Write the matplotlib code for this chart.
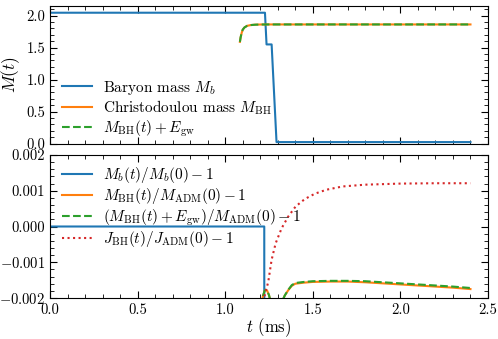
import numpy as np
import matplotlib
matplotlib.use("Agg")
import matplotlib.pyplot as plt
from matplotlib.ticker import MultipleLocator

plt.rcParams['font.family'] = 'serif'
plt.rcParams['font.serif'] = ['cmr10']
plt.rcParams['mathtext.fontset'] = 'cm'
plt.rcParams['axes.formatter.use_mathtext'] = True
plt.rcParams['font.size'] = 10.5

# ---- top panel data ----
t_b = [0.0, 1.227, 1.236, 1.265, 1.293, 2.40]
M_b = [2.045, 2.045, 1.55, 1.55, 0.025, 0.025]

t_bh = [1.084, 1.088, 1.094, 1.100, 1.110, 1.125, 1.145, 1.17, 1.20, 1.25, 1.40, 1.80, 2.40]
M_bh = [1.59, 1.66, 1.73, 1.78, 1.815, 1.84, 1.852, 1.858, 1.861, 1.862, 1.862, 1.862, 1.862]
M_tot = [1.59, 1.66, 1.73, 1.78, 1.815, 1.84, 1.852, 1.858, 1.861, 1.862, 1.862, 1.862, 1.862]

# ---- bottom panel data ----
t_rb = [0.0, 1.223, 1.237, 1.265, 1.293, 2.40]
r_b = [0.0, 0.0, -0.24, -0.24, -0.988, -0.988]

t_rm = [1.205, 1.215, 1.225, 1.232, 1.240, 1.250, 1.262, 1.29, 1.32, 1.34, 1.36, 1.38, 1.40, 1.45, 1.50, 1.60, 1.70, 1.80, 1.90, 2.00, 2.10, 2.20, 2.30, 2.40]
r_m = [-0.00225, -0.00195, -0.00180, -0.00177, -0.00180, -0.00192, -0.00215, -0.0030, -0.00215, -0.00193, -0.00178, -0.00166, -0.00160, -0.00157, -0.00155, -0.00154, -0.00154, -0.00156, -0.00159, -0.00162, -0.00165, -0.00168, -0.00171, -0.00175]
r_tot = [-0.00225, -0.00195, -0.00180, -0.00177, -0.00180, -0.00192, -0.00215, -0.0030, -0.00215, -0.00193, -0.00177, -0.00164, -0.00158, -0.00155, -0.00153, -0.00152, -0.00152, -0.00153, -0.00156, -0.00159, -0.00162, -0.00165, -0.00168, -0.00172]

t_j = [1.215, 1.230, 1.246, 1.265, 1.288, 1.322, 1.360, 1.402, 1.455, 1.513, 1.579, 1.67, 1.80, 2.00, 2.20, 2.40]
r_j = [-0.0021, -0.00185, -0.00154, -0.00093, -0.00047, -0.00005, 0.00028, 0.00056, 0.00077, 0.00092, 0.00103, 0.00112, 0.00117, 0.00120, 0.00121, 0.00121]

fig = plt.figure(figsize=(4.98, 3.39), dpi=100)
ax1 = fig.add_axes([0.1004, 0.5752, 0.8795, 0.4071])
ax2 = fig.add_axes([0.1004, 0.1209, 0.8795, 0.4219])

c_blue, c_orange, c_green, c_red = '#1f77b4', '#ff7f0e', '#2ca02c', '#d62728'
leg_kw = dict(frameon=False, fontsize=11, handlelength=1.95, handletextpad=0.7,
              borderaxespad=0.0)

ax1.plot(t_b, M_b, color=c_blue, lw=1.5, label=r'Baryon mass $M_b$')
ax1.plot(t_bh, M_bh, color=c_orange, lw=1.5, label=r'Christodoulou mass $M_{\rm BH}$')
ax1.plot(t_bh, M_tot, color=c_green, lw=1.5, ls='--', label=r'$M_{\rm BH}(t) + E_{\rm gw}$')
ax1.set_xlim(0, 2.5)
ax1.set_ylim(-0.005, 2.15)
ax1.set_ylabel(r'$M(t)$', fontsize=12.5, labelpad=3)
ax1.yaxis.set_minor_locator(MultipleLocator(0.1))
ax1.set_yticks([0.0, 0.5, 1.0, 1.5, 2.0])
ax1.set_yticklabels(['0.0', '0.5', '1.0', '1.5', '2.0'])
ax1.tick_params(labelbottom=False)
ax1.legend(loc='lower left', bbox_to_anchor=(0.0137, -0.01), labelspacing=0.12, **leg_kw)

ax2.plot(t_rb, r_b, color=c_blue, lw=1.5, label=r'$M_b(t)/M_b(0) - 1$')
ax2.plot(t_rm, r_m, color=c_orange, lw=1.5, label=r'$M_{\rm BH}(t)/M_{\rm ADM}(0) - 1$')
ax2.plot(t_rm, r_tot, color=c_green, lw=1.5, ls='--', label=r'$(M_{\rm BH}(t) + E_{\rm gw})/M_{\rm ADM}(0) - 1$')
ax2.plot(t_j, r_j, color=c_red, lw=1.5, ls=':', label=r'$J_{\rm BH}(t)/J_{\rm ADM}(0) - 1$')
ax2.set_xlim(0, 2.5)
ax2.set_ylim(-0.002, 0.002)
ax2.set_xlabel(r'$t$ (ms)', fontsize=12, labelpad=0)
ax2.yaxis.set_minor_locator(MultipleLocator(0.0002))
ax2.set_yticks([-0.002, -0.001, 0.0, 0.001, 0.002])
ax2.set_yticklabels([r'$-0.002$', r'$-0.001$', '0.000', '0.001', '0.002'])
ax2.set_xticks([0.0, 0.5, 1.0, 1.5, 2.0, 2.5])
ax2.set_xticklabels(['0.0', '0.5', '1.0', '1.5', '2.0', '2.5'])
ax2.legend(loc='upper left', bbox_to_anchor=(0.0137, 0.972), labelspacing=0.08, **leg_kw)

for ax in (ax1, ax2):
    ax.xaxis.set_minor_locator(MultipleLocator(0.1))
    ax.tick_params(which='both', direction='in', top=True, right=True)
    ax.tick_params(which='major', length=5)
    ax.tick_params(which='minor', length=3)

fig.savefig('out.png', dpi=100)
